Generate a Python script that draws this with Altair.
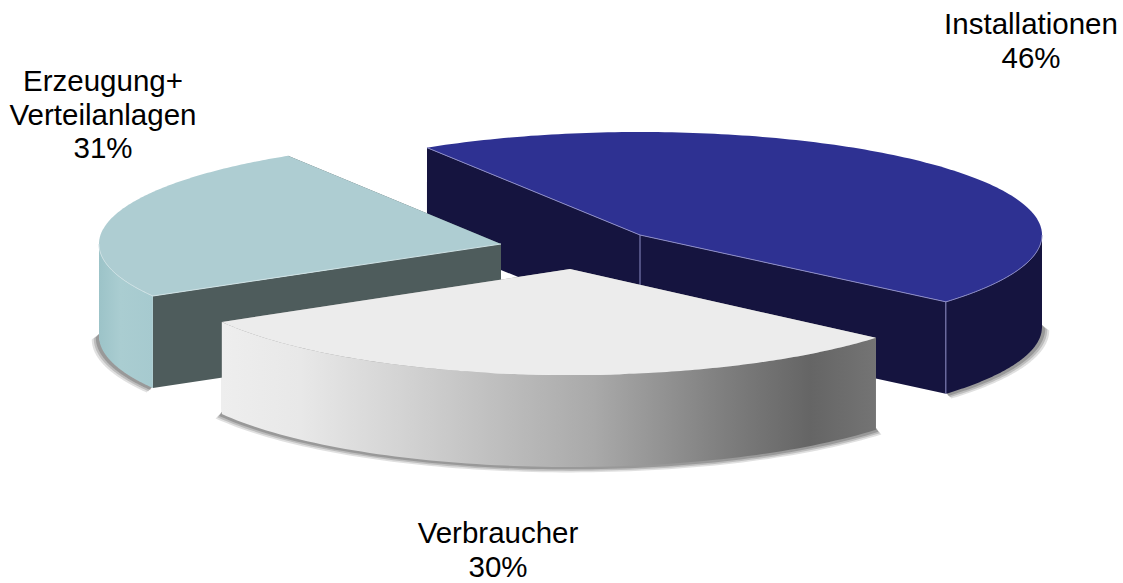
import math
import altair as alt

# Chart values
categories = ["Erzeugung+\nVerteilanlagen", "Verbraucher", "Installationen"]
shares = [31, 30, 46]

# Scene layout of the exploded 3D pie
START_ANGLE = 122.0
RIM_A = 402.0
RIM_B = {"Erzeugung+\nVerteilanlagen": 104.0, "Verbraucher": 106.0, "Installationen": 103.0}
DEPTH = 92.0
HUB = {"Erzeugung+\nVerteilanlagen": (501, 244), "Verbraucher": (570, 269), "Installationen": (640, 235)}
DRAW_ORDER = ["Installationen", "Erzeugung+\nVerteilanlagen", "Verbraucher"]
LABEL_POS = {
    "Erzeugung+\nVerteilanlagen": (103, 82),
    "Verbraucher": (498, 534),
    "Installationen": (1031, 25),
}
LINE_HEIGHT = 33.5


def grad(*stops):
    return alt.Gradient(
        gradient="linear", x1=0, x2=1, y1=0, y2=0,
        stops=[alt.GradientStop(offset=o, color=c) for o, c in stops],
    )


STYLE = {
    "Installationen": dict(top="#2e3192", cut="#15143f", side="#15143f", edge="#8c8cc6"),
    "Erzeugung+\nVerteilanlagen": dict(
        top="#aecdd2", cut="#4e5c5c",
        side=grad((0, "#9cc3c8"), (0.4, "#aacdd1"), (1, "#a6cacf")),
        edge="#cfe2e5",
    ),
    "Verbraucher": dict(
        top="#ececec", cut="#8a8a8a",
        side=grad((0, "#eeeeee"), (0.12, "#e8e8e8"), (0.27, "#d4d4d4"), (0.43, "#bdbdbd"),
                  (0.57, "#a9a9a9"), (0.76, "#808080"), (0.9, "#656565"), (1, "#747474")),
        edge=None,
    ),
}


def view_angle(deg):
    # Perspective foreshortening of the pie's rim angle under the camera tilt
    r = math.radians(deg)
    return deg + 9.92 * math.sin(r) + 4.44 * math.cos(r) - 6.06


def rim(name, deg, drop=0.0, grow=1.0):
    hub = HUB[name]
    r = math.radians(deg)
    return [hub[0] + RIM_A * grow * math.cos(r), hub[1] - RIM_B[name] * grow * math.sin(r) + drop]


def arc(name, a0, a1, drop=0.0, grow=1.0, n=80):
    return [rim(name, a0 + (a1 - a0) * i / n, drop, grow) for i in range(n + 1)]


def shift(p, dy):
    return [p[0], p[1] + dy]


def feature(kind, coords):
    return {"type": "Feature", "properties": {},
            "geometry": {"type": kind, "coordinates": coords}}


def poly(points, **mark):
    ring = points + [points[0]]
    return (alt.Chart(alt.Data(values=[feature("Polygon", [ring])]))
            .mark_geoshape(strokeWidth=0, **mark)
            .project(type="identity", scale=1, translate=[0, 0]))


def stroke_line(points, color, width=1.0):
    return (alt.Chart(alt.Data(values=[feature("LineString", points)]))
            .mark_geoshape(filled=False, stroke=color, strokeWidth=width)
            .project(type="identity", scale=1, translate=[0, 0]))


# Angular span of each slice, taken from its share of the total
total = sum(shares)
spans = {}
cursor = START_ANGLE
for name, value in zip(categories, shares):
    sweep = value / total * 360.0
    spans[name] = (view_angle(cursor), view_angle(cursor + sweep))
    cursor += sweep

shadow_layers = []
slice_layers = {}
for name in DRAW_ORDER:
    hub = list(HUB[name])
    a0, a1 = spans[name]
    st = STYLE[name]
    # only the front half of the rim wall faces the viewer
    v0, v1 = max(a0, 180.0), min(a1, 360.0)

    # soft contact shadow: thin slivers below the rim wall, pinched at the tips
    for grow, dy, op in [(1.018, 3.5, 0.18), (1.013, 2.5, 0.25), (1.008, 1.5, 0.35)]:
        strip = arc(name, v0, v1, DEPTH + dy, grow) + arc(name, v1, v0, DEPTH - 2)
        shadow_layers.append(poly(strip, fill="#555555", opacity=op))

    layers = []
    for edge_angle in (a0, a1):
        p = rim(name, edge_angle)
        face = [hub, p, shift(p, DEPTH), shift(hub, DEPTH)]
        layers.append(poly(face, fill=st["cut"]))
    wall = arc(name, v0, v1) + arc(name, v1, v0, DEPTH)
    layers.append(poly(wall, fill=st["side"]))
    top = [hub] + arc(name, a0, a1, n=160)
    layers.append(poly(top, fill=st["top"]))

    # thin highlights along the visible edges
    if name == "Installationen":
        corner = rim(name, a0)
        layers.append(stroke_line(arc(name, v0, v1), st["edge"]))
        layers.append(stroke_line([rim(name, a0), hub, rim(name, a1)], st["edge"]))
        layers.append(stroke_line([hub, shift(hub, DEPTH)], st["edge"]))
        layers.append(stroke_line([corner, shift(corner, DEPTH)], st["edge"]))
    elif st["edge"]:
        layers.append(stroke_line(arc(name, v0, v1), st["edge"]))
        layers.append(stroke_line([hub, rim(name, a1)], st["edge"]))
    slice_layers[name] = layers

# Caption lines: the category name followed by its percentage
label_rows = []
for name, value in zip(categories, shares):
    x, y = LABEL_POS[name]
    lines = name.split("\n") + [f"{value}%"]
    for i, line in enumerate(lines):
        label_rows.append({"text": line, "px": x, "py": y + i * LINE_HEIGHT})

labels = [
    alt.Chart(alt.Data(values=[row]))
    .mark_text(font="Liberation Sans", fontSize=29.5, color="#000000",
               align="center", baseline="middle")
    .encode(x=alt.value(row["px"]), y=alt.value(row["py"]), text=alt.Text("text:N"))
    for row in label_rows
]

ordered = list(shadow_layers)
for name in DRAW_ORDER:
    ordered.extend(slice_layers[name])

chart = (
    alt.layer(*ordered, *labels)
    .properties(width=1123, height=583, padding=0, background="#ffffff",
                autosize=alt.AutoSizeParams(type="none"),
                view=alt.ViewBackground(stroke=None, fill=None))
)

chart.save("out.html", embed_options={"renderer": "svg", "actions": False})
